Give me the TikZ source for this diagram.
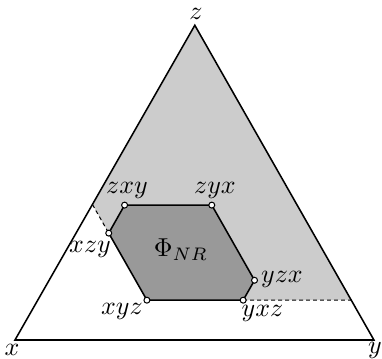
\documentclass[tikz,border=0pt]{standalone}
\begin{document}
\begin{tikzpicture}[lbl/.style={inner sep=0pt}, vtx/.style={fill=white, thin}, cut/.style={thin, dash pattern=on 1.5pt off 1.2pt}]
  \useasboundingbox (-0.2035,-0.258) rectangle (4.980,4.613);
  % corners of the simplex
  \coordinate (X) at (0,0);
  \coordinate (Y) at (4.87,0);
  \coordinate (Z) at (2.44,4.27);
  % vertices of the hexagon
  \coordinate (zxy) at (1.487,1.83);
  \coordinate (zyx) at (2.67,1.83);
  \coordinate (yzx) at (3.25,0.81);
  \coordinate (yxz) at (3.096,0.54);
  \coordinate (xyz) at (1.79,0.54);
  \coordinate (xzy) at (1.272,1.45);
  \coordinate (L) at (intersection of xyz--xzy and X--Z);
  \coordinate (R) at (intersection of xyz--yxz and Y--Z);
  \fill[black!20] (Z) -- (L) -- (xzy) -- (xyz) -- (yxz) -- (R) -- cycle;
  \draw[cut] (L) -- (xzy);
  \draw[cut] (yxz) -- (R);
  \draw[semithick] (X) -- (Y) -- (Z) -- cycle;
  \draw[semithick, fill=black!40] (zxy) -- (zyx) -- (yzx) -- (yxz) -- (xyz) -- (xzy) -- cycle;
  \foreach \v in {zxy,zyx,yzx,yxz,xyz,xzy}
    \draw[vtx] (\v) circle (1.15pt);
  \node[lbl] (lx) at (-0.041,-0.136) {$x$};
  \node[lbl] (ly) at (4.885,-0.136) {$y$};
  \node[lbl] (lz) at (2.456,4.423) {$z$};
  \node[lbl] (lzxy) at (1.520,2.035) {$zxy$};
  \node[lbl] (lzyx) at (2.714,2.035) {$zyx$};
  \node[lbl] (lxzy) at (1.018,1.235) {$xzy$};
  \node[lbl] (lyzx) at (3.623,0.828) {$yzx$};
  \node[lbl] (lyxz) at (3.358,0.366) {$yxz$};
  \node[lbl] (lxyz) at (1.452,0.393) {$xyz$};
  \node[lbl] (phi) at (2.252,1.221) {$\Phi_{NR}$};
\end{tikzpicture}
\end{document}
